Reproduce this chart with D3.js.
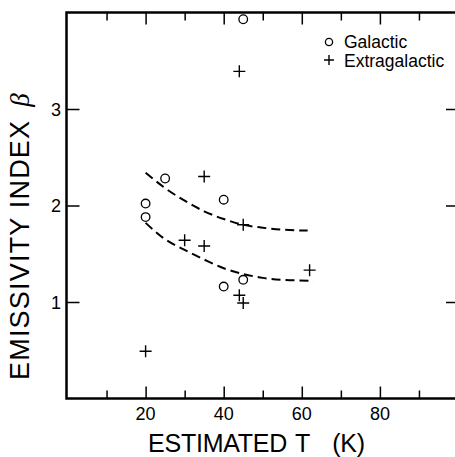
<!DOCTYPE html>
<html>
<head>
<meta charset="utf-8">
<script src="https://d3js.org/d3.v7.min.js"></script>
<style>
  body { margin: 0; background: #fff; }
  svg { display: block; font-family: "Liberation Sans", Arial, sans-serif; }
  .frame { stroke: #000; stroke-width: 2.5; fill: none; }
  .tick line { stroke: #000; stroke-width: 1.5; }
  .ticklabel { font-size: 18px; fill: #000; }
  .fit { fill: none; stroke: #000; stroke-width: 2; stroke-dasharray: 9,5; }
  .gal { fill: none; stroke: #000; stroke-width: 1.3; }
  .ext { stroke: #000; stroke-width: 1.4; }
</style>
</head>
<body>
<svg id="chart"></svg>
<script>
var width = 455;
var height = 457;

// galactic sources (circles)
var galT = [45, 25, 20, 20, 40, 40, 45];
var galBeta = [3.93, 2.28, 2.02, 1.88, 2.06, 1.16, 1.23];

// extragalactic sources (plus signs)
var extT = [44, 35, 45, 30, 35, 20, 44, 45, 62];
var extBeta = [3.39, 2.30, 1.80, 1.64, 1.58, 0.49, 1.07, 0.99, 1.33];

// dashed curves
var upperT = [20, 25, 30, 35, 40, 45, 50, 55, 61.5];
var upperBeta = [2.34, 2.18, 2.05, 1.94, 1.86, 1.80, 1.77, 1.75, 1.74];
var lowerT = [20, 25, 30, 35, 40, 45, 50, 55, 63];
var lowerBeta = [1.82, 1.65, 1.54, 1.44, 1.35, 1.29, 1.25, 1.23, 1.22];

var xMajor = [20, 40, 60, 80];
var xMinor = [10, 30, 50, 70, 90];
var yMajor = [1, 2, 3];

var x = d3.scaleLinear()
    .domain([0, 100])
    .range([67.5, 458]);

var y = d3.scaleLinear()
    .domain([0, 4])
    .range([398.5, 12.5]);

var chart = d3.select("#chart")
    .attr("width", width)
    .attr("height", height);

// ticks (inward), drawn with d3 axes
chart.append("g")
    .attr("transform", "translate(0," + y(0) + ")")
    .call(d3.axisTop(x).tickValues(xMajor).tickSize(12).tickFormat(""));
chart.append("g")
    .attr("transform", "translate(0," + y(0) + ")")
    .call(d3.axisTop(x).tickValues(xMinor).tickSize(8).tickFormat(""));
chart.append("g")
    .attr("transform", "translate(0," + y(4) + ")")
    .call(d3.axisBottom(x).tickValues(xMajor).tickSize(12).tickFormat(""));
chart.append("g")
    .attr("transform", "translate(0," + y(4) + ")")
    .call(d3.axisBottom(x).tickValues(xMinor).tickSize(8).tickFormat(""));
chart.append("g")
    .attr("transform", "translate(" + (x(0) - 1) + ",0)")
    .call(d3.axisRight(y).tickValues(yMajor).tickSize(13).tickFormat(""));
chart.append("g")
    .attr("transform", "translate(" + x(100) + ",0)")
    .call(d3.axisLeft(y).tickValues(yMajor).tickSize(12).tickFormat(""));
chart.selectAll(".domain").remove();

// frame
chart.append("rect")
    .attr("class", "frame")
    .attr("x", x(0) - 1)
    .attr("y", y(4))
    .attr("width", x(100) - x(0) + 1)
    .attr("height", y(0) - y(4));

// tick labels
chart.selectAll(".xlab")
    .data(xMajor)
  .enter().append("text")
    .attr("class", "ticklabel")
    .attr("x", function(d) { return x(d); })
    .attr("y", 420)
    .attr("text-anchor", "middle")
    .text(function(d) { return d; });

chart.selectAll(".ylab")
    .data(yMajor)
  .enter().append("text")
    .attr("class", "ticklabel")
    .attr("x", 61)
    .attr("y", function(d) { return y(d) + 6.5; })
    .attr("text-anchor", "end")
    .text(function(d) { return d; });

// axis titles
var xt = chart.append("text")
    .attr("x", 148)
    .attr("y", 452)
    .attr("font-size", 25)
    .attr("textLength", 217)
    .attr("lengthAdjust", "spacing");
xt.append("tspan").text("ESTIMATED");
xt.append("tspan").attr("dx", 8).text("T");
xt.append("tspan").attr("dx", 22).text("(K)");

var yt = chart.append("text")
    .attr("transform", "translate(29,380) rotate(-90)")
    .attr("font-size", 27);
yt.append("tspan")
    .attr("letter-spacing", 1.2)
    .text("EMISSIVITY INDEX");
yt.append("tspan")
    .attr("dx", 13)
    .attr("font-family", "'Liberation Serif', serif")
    .attr("font-style", "italic")
    .text("\u03B2");

// fitted curves
var line = d3.line()
    .x(function(d) { return x(d[0]); })
    .y(function(d) { return y(d[1]); })
    .curve(d3.curveMonotoneX);

chart.append("path")
    .attr("class", "fit")
    .attr("d", line(d3.zip(upperT, upperBeta)));
chart.append("path")
    .attr("class", "fit")
    .attr("d", line(d3.zip(lowerT, lowerBeta)));

// points
chart.selectAll(".gal")
    .data(d3.zip(galT, galBeta))
  .enter().append("circle")
    .attr("class", "gal")
    .attr("cx", function(d) { return x(d[0]); })
    .attr("cy", function(d) { return y(d[1]); })
    .attr("r", 4.3);

chart.selectAll(".ext")
    .data(d3.zip(extT, extBeta))
  .enter().append("path")
    .attr("class", "ext")
    .attr("transform", function(d) { return "translate(" + x(d[0]) + "," + y(d[1]) + ")"; })
    .attr("d", "M-6,0H6M0,-6V6");

// legend
var legend = chart.append("g")
    .attr("font-size", 17.5);
legend.append("circle")
    .attr("class", "gal")
    .attr("cx", 329)
    .attr("cy", 42)
    .attr("r", 3.6);
legend.append("path")
    .attr("class", "ext")
    .attr("transform", "translate(329,60)")
    .attr("d", "M-5,0H5M0,-5V5");
legend.append("text")
    .attr("x", 344)
    .attr("y", 47.5)
    .text("Galactic");
legend.append("text")
    .attr("x", 344)
    .attr("y", 66.5)
    .text("Extragalactic");
</script>
</body>
</html>
